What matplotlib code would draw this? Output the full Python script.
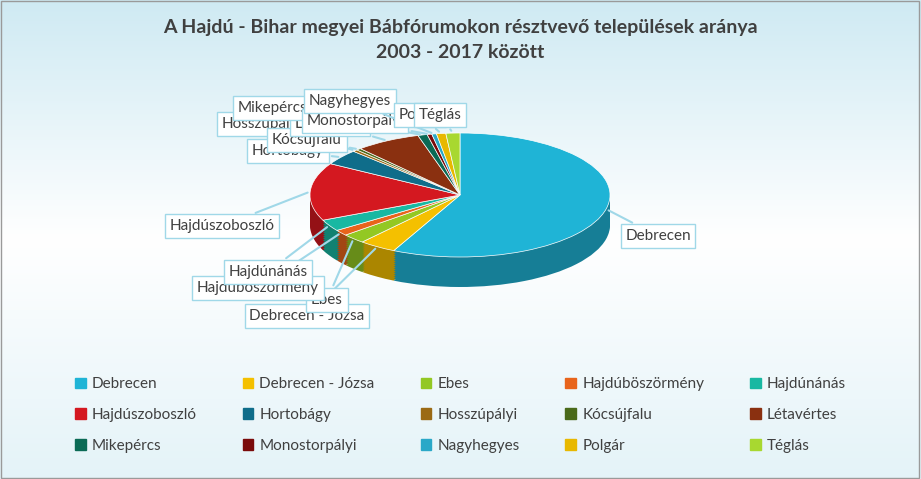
import matplotlib
matplotlib.use("Agg")
import matplotlib.pyplot as plt
import numpy as np
from matplotlib.colors import to_rgb, LinearSegmentedColormap
from matplotlib.patches import Rectangle

plt.rcParams['font.family'] = ['Lato', 'DejaVu Sans']

categories = ["Debrecen", "Debrecen - Józsa", "Ebes", "Hajdúböszörmény", "Hajdúnánás",
              "Hajdúszoboszló", "Hortobágy", "Hosszúpályi", "Kócsújfalu", "Létavértes",
              "Mikepércs", "Monostorpályi", "Nagyhegyes", "Polgár", "Téglás"]
values = [57, 4, 2.5, 1.5, 3, 15, 4, 0.5, 0.5, 7, 1, 0.5, 0.5, 1, 1.5]
colors = ["#1fb4d6", "#f4c000", "#93c823", "#e8641b", "#18b8a2", "#d41820", "#0f6d8a",
          "#9b6a14", "#4a6a1a", "#8a3010", "#0a6a55", "#7a0a0a", "#2aa8c8", "#e8b800", "#a8d830"]
label_pos = {"Debrecen": (658, 236), "Debrecen - Józsa": (307, 316), "Ebes": (327, 300),
             "Hajdúböszörmény": (258, 288), "Hajdúnánás": (268, 272), "Hajdúszoboszló": (222, 226),
             "Hortobágy": (288, 151), "Hosszúpályi": (262, 124), "Kócsújfalu": (307, 140),
             "Létavértes": (330, 124), "Mikepércs": (272, 108), "Monostorpályi": (355, 121),
             "Nagyhegyes": (350, 101), "Polgár": (420, 115), "Téglás": (440, 115)}

W, H = 921, 479
fig = plt.figure(figsize=(W/100, H/100), dpi=100)
bg = fig.add_axes([0, 0, 1, 1], zorder=-10)
grad = np.linspace(0, 1, 256).reshape(-1, 1)
cm = LinearSegmentedColormap.from_list("bg", ["#cfeaf3", "#ffffff", "#e4f3f8"])
bg.imshow(grad, aspect='auto', cmap=cm, extent=[0, 1, 0, 1])
bg.add_patch(Rectangle((0.001, 0.002), 0.997, 0.995, fill=False, ec="#9a9a9a", lw=1))
bg.set_xlim(0, 1); bg.set_ylim(0, 1); bg.axis('off')

fig.text(0.5, 1-27/H, "A Hajdú - Bihar megyei Bábfórumokon résztvevő települések aránya",
         ha='center', va='center', fontsize=14, fontweight='bold', color='#404040')
fig.text(0.5, 1-53/H, "2003 - 2017 között", ha='center', va='center', fontsize=14,
         fontweight='bold', color='#404040')

cx, cy, rx, ry, depth = 460, 195, 150, 62, 30
ax = fig.add_axes([(cx-rx)/W, 1-(cy+ry+depth)/H, 2*rx/W, (2*ry+depth)/H])
ylo = -1 - depth/ry
dark = [tuple(c*0.7 for c in to_rgb(col)) for col in colors]
for off in np.linspace(ylo+1, 0, 16)[:-1]:
    ax.pie(values, colors=dark, startangle=90, counterclock=False, center=(0, off), radius=1,
           wedgeprops=dict(lw=0))
wedges, _ = ax.pie(values, colors=colors, startangle=90, counterclock=False, center=(0, 0),
                   radius=1, wedgeprops=dict(lw=0.5, ec='white'))
ax.set_aspect('auto'); ax.set_xlim(-1, 1); ax.set_ylim(ylo, 1); ax.axis('off')

for w, name in zip(wedges, categories):
    ang = np.deg2rad((w.theta1 + w.theta2) / 2)
    x, y = np.cos(ang), np.sin(ang)
    lx, ly = label_pos[name]
    ax.annotate(name, xy=(x, y), xytext=(lx, H-ly), textcoords='figure pixels',
                ha='center', va='center', fontsize=11, color='#404040',
                bbox=dict(boxstyle='square,pad=0.3', fc='white', ec='#a0d8e8', lw=1),
                arrowprops=dict(arrowstyle='-', color='#a0d8e8', lw=1.5))

# legend in row-major order (3 rows x 5 columns)
ncol, nrow = 5, 3
order = [r*ncol + c for c in range(ncol) for r in range(nrow)]
handles = [Rectangle((0, 0), 1, 1, color=colors[i]) for i in order]
labels = [categories[i] for i in order]
fig.legend(handles, labels, ncol=ncol, loc='center', bbox_to_anchor=(0.5, 1-415/H),
           frameon=False, fontsize=11, labelcolor='#404040', handlelength=0.7, handleheight=0.7,
           columnspacing=3.0, labelspacing=1.1, handletextpad=0.4)
fig.savefig("out.png", dpi=100)
